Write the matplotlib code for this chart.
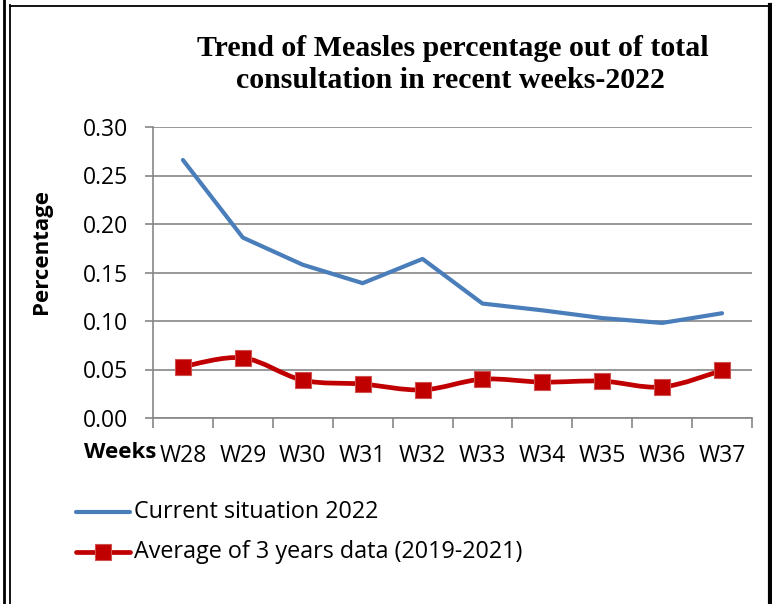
import matplotlib
matplotlib.use("Agg")
import matplotlib.pyplot as plt
from matplotlib.lines import Line2D
from matplotlib.path import Path
from matplotlib.patches import PathPatch

weeks = ["W28", "W29", "W30", "W31", "W32", "W33", "W34", "W35", "W36", "W37"]
current_2022 = [0.266, 0.186, 0.158, 0.139, 0.164, 0.118, 0.111, 0.103, 0.098, 0.108]
avg_2019_2021 = [0.053, 0.062, 0.039, 0.035, 0.029, 0.040, 0.037, 0.038, 0.032, 0.049]
yticks = [0.00, 0.05, 0.10, 0.15, 0.20, 0.25, 0.30]

W, H = 772, 604
fig = plt.figure(figsize=(W / 100, H / 100), dpi=100)
fig.patch.set_facecolor("white")

def fx(px):
    return px / W

def fy(py):
    return 1 - py / H

ax = fig.add_axes([fx(153), fy(418), fx(752) - fx(153), fy(127) - fy(418)])

x = list(range(len(weeks)))
grid_c = "#868686"
blue = "#4A7EBB"
red = "#C00000"
medge = "#D05050"
FONT = "Open Sans"

ax.plot(x, current_2022, color=blue, lw=3.0, solid_joinstyle="round",
        solid_capstyle="round", label="Current situation 2022", zorder=3)

# smoothed line (Excel-style Catmull-Rom Bezier) through the average series
def smooth_path(xs, ys):
    pts = list(zip(xs, ys))
    verts = [pts[0]]
    codes = [Path.MOVETO]
    n = len(pts)
    for i in range(n - 1):
        p0 = pts[i - 1] if i > 0 else pts[i]
        p1 = pts[i]
        p2 = pts[i + 1]
        p3 = pts[i + 2] if i + 2 < n else pts[i + 1]
        c1 = (p1[0] + (p2[0] - p0[0]) / 6, p1[1] + (p2[1] - p0[1]) / 6)
        c2 = (p2[0] - (p3[0] - p1[0]) / 6, p2[1] - (p3[1] - p1[1]) / 6)
        verts += [c1, c2, p2]
        codes += [Path.CURVE4] * 3
    return Path(verts, codes)

ax.add_patch(PathPatch(smooth_path(x, avg_2019_2021), facecolor="none", edgecolor=red,
                       lw=3.4, capstyle="round", joinstyle="round", zorder=4))
ax.plot(x, avg_2019_2021, linestyle="none", marker="s", markersize=11,
        markerfacecolor=red, markeredgecolor=medge, markeredgewidth=0.8,
        label="Average of 3 years data (2019-2021)", zorder=5)

ax.set_xlim(-0.5, len(weeks) - 0.5)
ax.set_ylim(0, 0.30)
ax.set_yticks(yticks)
ax.set_yticklabels([f"{v:.2f}" for v in yticks])
ax.set_xticks(x)
ax.set_xticklabels(weeks)
ax.set_xticks([i - 0.5 for i in range(len(weeks) + 1)], minor=True)

for lab in ax.get_yticklabels() + ax.get_xticklabels():
    lab.set_fontfamily(FONT)
    lab.set_fontsize(16.5)

ax.yaxis.grid(True, color=grid_c, lw=1.2)
ax.set_axisbelow(True)
for s in ["top", "right"]:
    ax.spines[s].set_visible(False)
ax.spines["left"].set_color(grid_c)
ax.spines["bottom"].set_color(grid_c)
ax.spines["left"].set_linewidth(1.2)
ax.spines["bottom"].set_linewidth(1.2)
ax.tick_params(axis="y", length=6, width=1.2, color=grid_c, pad=12)
ax.tick_params(axis="x", which="major", length=0, pad=19)
ax.tick_params(axis="x", which="minor", length=7, width=1.2, color=grid_c, direction="out")

fig.text(fx(453), fy(48), "Trend of Measles percentage out of total",
         ha="center", va="center", family="Liberation Serif", weight="bold", fontsize=21.5)
fig.text(fx(450), fy(81), "consultation in recent weeks-2022",
         ha="center", va="center", family="Liberation Serif", weight="bold", fontsize=21.5)

fig.text(fx(42), fy(251), "Percentage", rotation=90, ha="center", va="center",
         family=FONT, weight="bold", fontsize=16)
fig.text(fx(120), fy(452), "Weeks", ha="center", va="center",
         family=FONT, weight="bold", fontsize=16)

# legend drawn manually
fig.add_artist(Line2D([fx(76), fx(130)], [fy(512), fy(512)], color=blue, lw=3.0,
                      solid_capstyle="round"))
fig.text(fx(134), fy(512), "Current situation 2022", ha="left", va="center",
         family=FONT, fontsize=16.8)
fig.add_artist(Line2D([fx(76), fx(130)], [fy(552), fy(552)], color=red, lw=3.4,
                      solid_capstyle="round"))
fig.add_artist(Line2D([fx(103)], [fy(552)], color=red, marker="s", markersize=11,
                      markerfacecolor=red, markeredgecolor=medge, markeredgewidth=0.8))
fig.text(fx(134), fy(552), "Average of 3 years data (2019-2021)", ha="left", va="center",
         family=FONT, fontsize=16.8)

# page borders
fig.add_artist(Line2D([fx(4), fx(4)], [0, 1], color="black", lw=2.0))
fig.add_artist(Line2D([fx(9.5), fx(9.5)], [0, fy(5)], color="black", lw=1.3))
fig.add_artist(Line2D([fx(9.5), fx(770)], [fy(5.5), fy(5.5)], color="black", lw=1.3))
fig.add_artist(Line2D([fx(769.5), fx(769.5)], [0, fy(5)], color="black", lw=3.0))

fig.savefig("out.png", dpi=100, facecolor="white")
